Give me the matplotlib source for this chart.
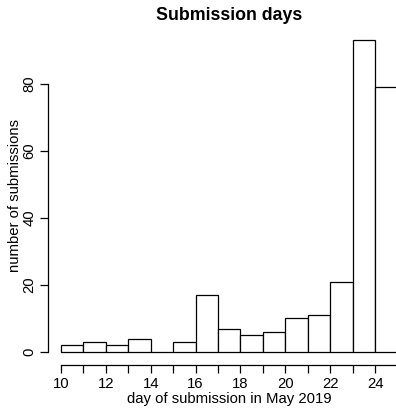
import matplotlib
matplotlib.use("Agg")
import matplotlib.pyplot as plt

# ── Data: submissions per day (bins of width 1, left edges) ────────────────
DAYS   = [10, 11, 12, 13, 14, 15, 16, 17, 18, 19, 20, 21, 22, 23, 24]
COUNTS = [2, 3, 2, 4, 0, 3, 17, 7, 5, 6, 10, 11, 21, 93, 79]
XTICKS = list(range(10, 26))
XLABELS = [str(d) if d % 2 == 0 else "" for d in XTICKS]
YTICKS = [0, 20, 40, 60, 80]

W, H = 396, 408
plt.rcParams["font.family"] = ["Liberation Sans", "DejaVu Sans"]

fig = plt.figure(figsize=(W / 100, H / 100), dpi=100)
# plot region (R style); it runs past the right edge of the picture
left, right, top, bottom = 47.5, 411, 27.5, 364.5
ax = fig.add_axes([left / W, 1 - bottom / H, (right - left) / W, (bottom - top) / H])

ax.bar(DAYS, COUNTS, width=1, align="edge", color="white",
       edgecolor="black", linewidth=0.9)

ax.set_xlim(9.4, 25.6)
ax.set_ylim(-3.72, 96.72)

for s in ("top", "right"):
    ax.spines[s].set_visible(False)
ax.spines["left"].set_bounds(0, 80)
ax.spines["bottom"].set_bounds(10, 25)
for s in ("left", "bottom"):
    ax.spines[s].set_linewidth(0.9)

ax.set_xticks(XTICKS)
ax.set_xticklabels(XLABELS)
ax.set_yticks(YTICKS)
ax.set_yticklabels([str(v) for v in YTICKS], rotation=90, va="center")
ax.tick_params(length=6, width=0.9, pad=3, labelsize=10.7)
ax.tick_params(axis="y", pad=2)

fig.text((left + right) / 2 / W, 1 - 15 / H, "Submission days",
         ha="center", va="center", fontsize=12.8, fontweight="bold")
fig.text((left + right) / 2 / W, 1 - 399 / H, "day of submission in May 2019",
         ha="center", va="center", fontsize=10.7)
fig.text(15 / W, 1 - (top + bottom) / 2 / H, "number of submissions",
         ha="center", va="center", rotation=90, fontsize=10.7)

fig.savefig("out.png", dpi=100)
